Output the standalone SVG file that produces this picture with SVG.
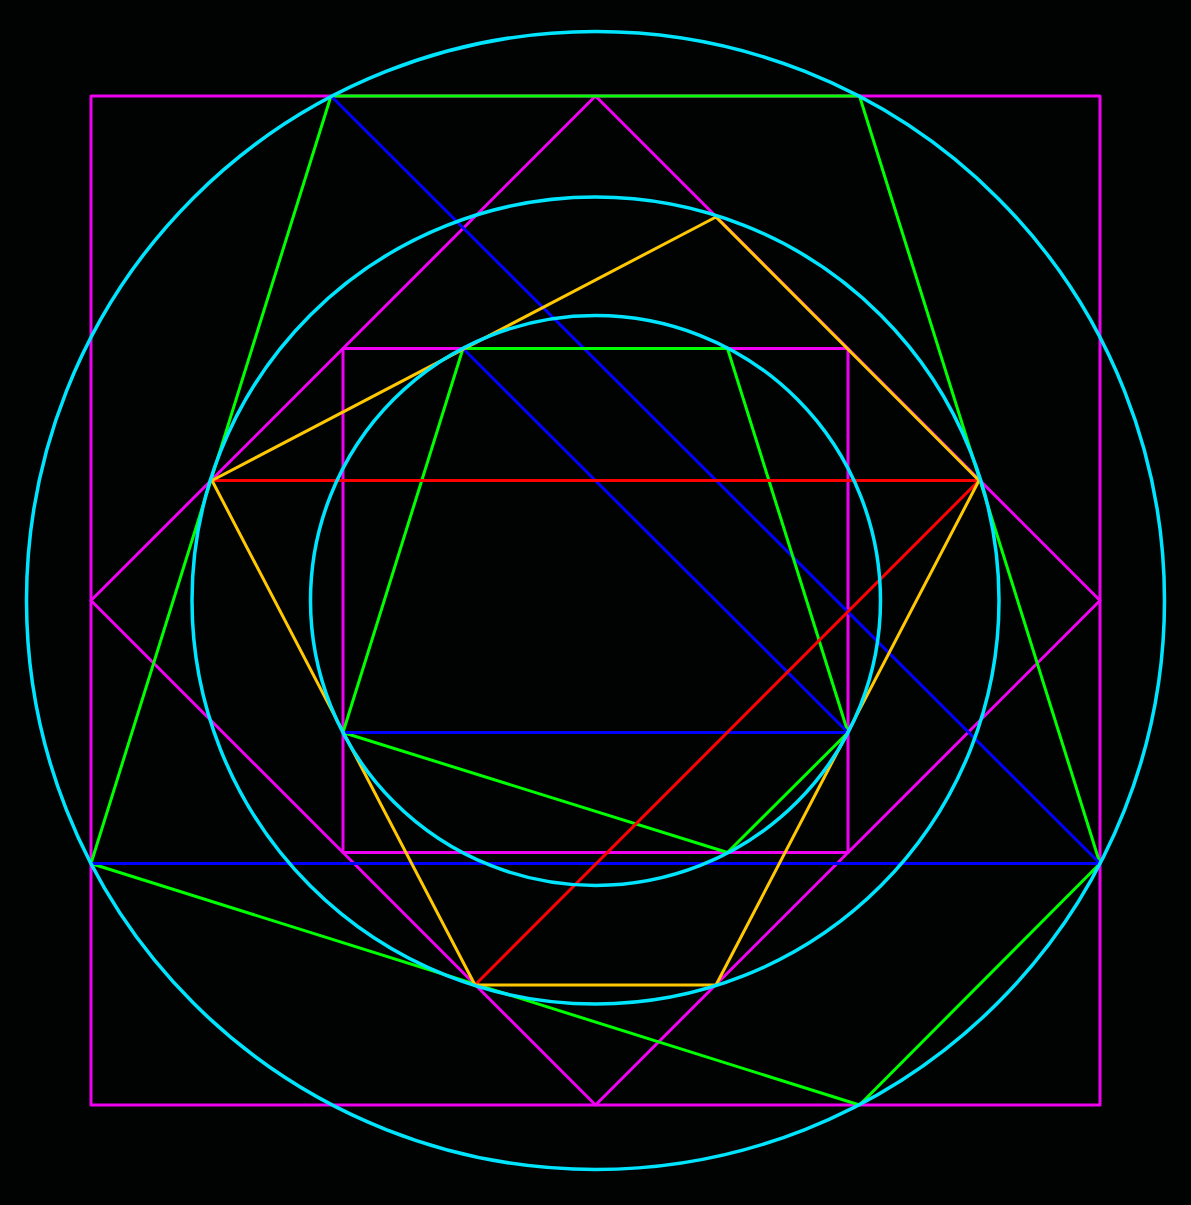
<svg xmlns="http://www.w3.org/2000/svg" width="1191" height="1205" viewBox="0 0 1191 1205">
<style>
.s{fill:none;stroke-width:3;stroke-linejoin:round;stroke-linecap:round}
.mag{stroke:#f000f0}
.grn{stroke:#00ff00}
.blu{stroke:#0000ff}
.red{stroke:#ff0000}
.yel{stroke:#ffc800}
.cyn{stroke:#00e5ff;stroke-width:3.5}
</style>
<rect width="1191" height="1205" fill="#010303"/>
<g id="squares">
<rect class="s mag" x="91" y="96" width="1009" height="1009"/>
<rect class="s mag" x="343" y="348.5" width="505" height="504"/>
<polygon class="s mag" points="595.5,96 1100,600.5 595.5,1105 91,600.5"/>
</g>
<g id="outer-figure">
<polyline class="s grn" points="91,863.5 331,96 859.5,96 1100,863.5 859.5,1105 91,863.5"/>
<line class="s blu" x1="91" y1="863.5" x2="1100" y2="863.5"/>
<line class="s blu" x1="331" y1="96" x2="1100" y2="863.5"/>
</g>
<g id="inner-figure">
<polyline class="s grn" points="343,732.5 463,348.5 727.5,348.5 848,732.5 727.5,852.5 343,732.5"/>
<line class="s blu" x1="343" y1="732.5" x2="848" y2="732.5"/>
<line class="s blu" x1="463" y1="348.5" x2="848" y2="732.5"/>
</g>
<g id="middle-figure">
<line class="s red" x1="212" y1="480.5" x2="979" y2="480.5"/>
<line class="s red" x1="979" y1="480.5" x2="475" y2="985"/>
<polygon class="s yel" points="212,480.5 716,217 979,480.5 716,985 475,985"/>
</g>
<g id="circles">
<circle class="s cyn" cx="595.5" cy="600.5" r="569"/>
<circle class="s cyn" cx="595.5" cy="600.5" r="403.5"/>
<circle class="s cyn" cx="595.5" cy="600.5" r="285"/>
</g>
</svg>
